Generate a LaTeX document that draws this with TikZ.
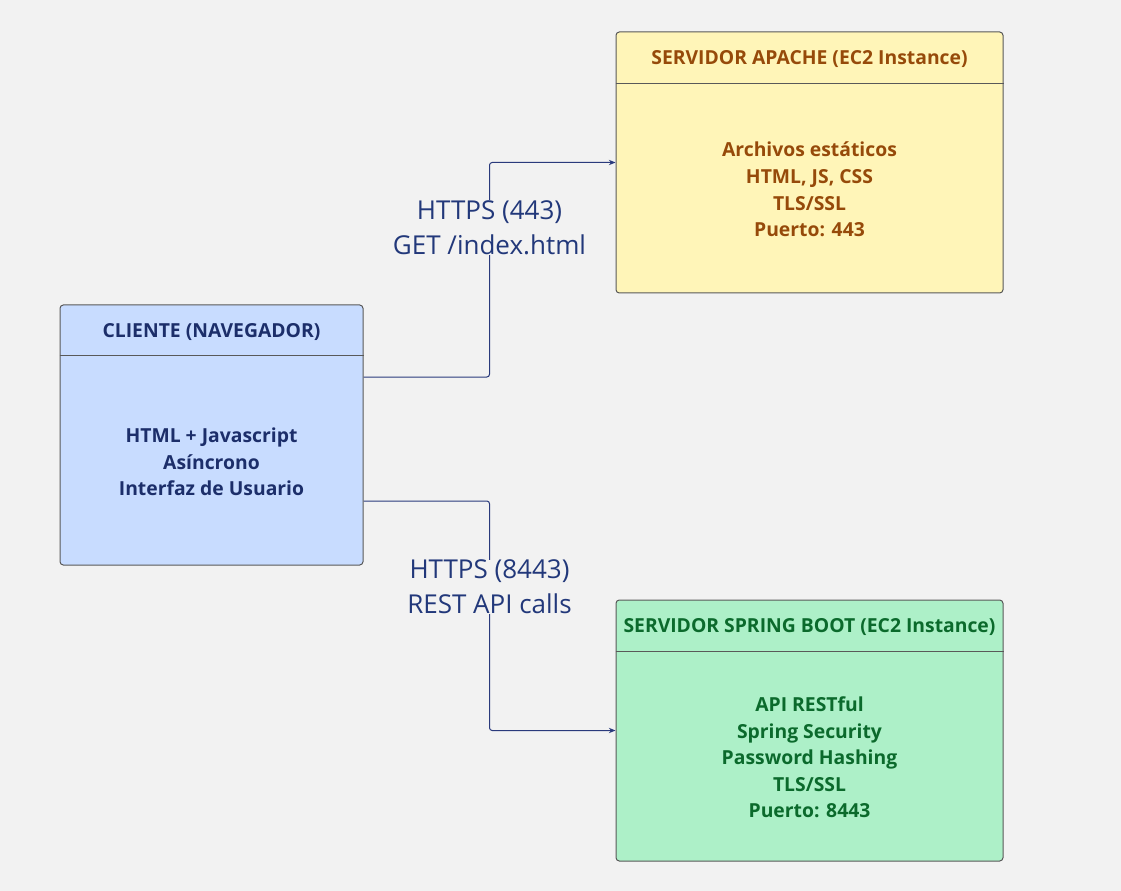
\documentclass[tikz,border=0pt]{standalone}
\usepackage{fontspec}
\setmainfont{Open Sans}
\usepackage{xcolor}
\usetikzlibrary{calc, positioning, arrows.meta}
\definecolor{bgGray}{HTML}{F2F2F2}
\definecolor{clientFill}{HTML}{C8DCFF}
\definecolor{clientText}{HTML}{1C2E6A}
\definecolor{apacheFill}{HTML}{FFF5B8}
\definecolor{apacheText}{HTML}{964A0A}
\definecolor{springFill}{HTML}{ADF0C8}
\definecolor{springText}{HTML}{0B6A2C}
\definecolor{linkBlue}{HTML}{2A3A7C}
\definecolor{labelBlue}{HTML}{22387A}
\tikzset{
    box/.style={rectangle, draw=black!65, line width=0.75pt, rounded corners=2.5pt},
    clientBox/.style={box, fill=clientFill, minimum width=227.25pt, minimum height=195pt},
    serverBox/.style={box, minimum width=290.25pt, minimum height=195.75pt},
    divider/.style={draw=black!65, line width=0.75pt},
    title/.style={font=\fontsize{14.5}{17}\selectfont\bfseries, inner sep=0pt},
    body/.style={font=\fontsize{14.5}{19.9}\selectfont\bfseries, align=center, inner sep=0pt},
    link/.style={draw=linkBlue, line width=0.75pt, rounded corners=2pt, -{Stealth[length=5pt, width=4pt]}},
    elabel/.style={fill=bgGray, text=labelBlue, font=\fontsize{19.5}{26.25}\selectfont, align=center, inner sep=0pt}
}

\begin{document}
\begin{tikzpicture}[x=0.75pt, y=-0.75pt]
    % background and page size
    \fill[bgGray] (0,0) rectangle (1121,891);
    \useasboundingbox (0,0) rectangle (1121,891);

    % --- CLIENT ---
    \node[clientBox] (client) at (211.5, 435) {};
    \node[title, text=clientText] (clientTitle) at ($(client.north)+(0,28)$) {CLIENTE (NAVEGADOR)};
    \draw[divider] ($(client.north west)+(0,51)$) -- ($(client.north east)+(0,51)$);
    \node[body, text=clientText] (clientBody) at ($(client.center)+(0,27)$) {HTML + Javascript\\Asíncrono\\Interfaz de Usuario};

    % --- APACHE SERVER ---
    \node[serverBox, fill=apacheFill] (apache) at (809.5, 162.5) {};
    \node[title, text=apacheText] (apacheTitle) at ($(apache.north)+(0,28)$) {SERVIDOR APACHE (EC2 Instance)};
    \draw[divider] ($(apache.north west)+(0,52)$) -- ($(apache.north east)+(0,52)$);
    \node[body, text=apacheText] (apacheBody) at ($(apache.center)+(0,27)$) {Archivos estáticos\\HTML, JS, CSS\\TLS/SSL\\Puerto: 443};

    % --- SPRING BOOT SERVER ---
    \node[serverBox, fill=springFill] (spring) at (809.5, 730.5) {};
    \node[title, text=springText] (springTitle) at ($(spring.north)+(0,28)$) {SERVIDOR SPRING BOOT (EC2 Instance)};
    \draw[divider] ($(spring.north west)+(0,52)$) -- ($(spring.north east)+(0,52)$);
    \node[body, text=springText] (springBody) at ($(spring.center)+(0,27)$) {API RESTful\\Spring Security\\Password Hashing\\TLS/SSL\\Puerto: 8443};

    % --- CONNECTIONS ---
    \coordinate (via1) at (489.5, 227.5);
    \coordinate (via2) at (489.5, 587);
    \draw[link] ([yshift=43.5pt]client.east) -| (via1) |- (apache.west);
    \draw[link] ([yshift=-49.5pt]client.east) -| (via2) |- (spring.west);

    % Labels
    \node[elabel] (https443) at (via1) {HTTPS (443)\\GET /index.html};
    \node[elabel] (https8443) at (via2) {HTTPS (8443)\\REST API calls};
\end{tikzpicture}
\end{document}
